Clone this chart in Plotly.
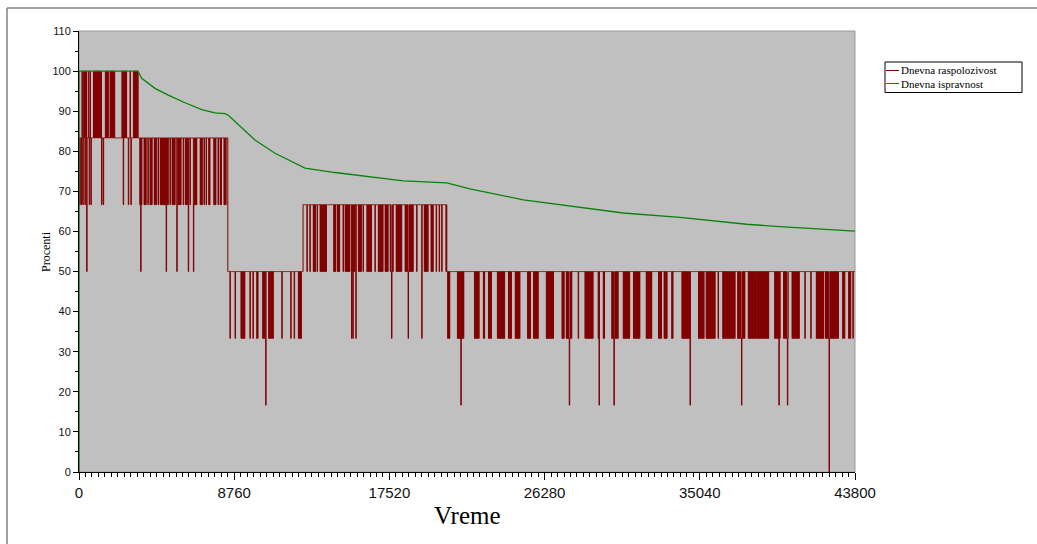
import numpy as np
import plotly.graph_objects as go

# ---- Daily availability (Dnevna raspolozivost), hours on the x axis ----
N_DAYS = 1825
END_HOUR = 43800

# Prevailing level of each period
base_start_h = [0, 8380, 12625, 20750]
base_level = [83.33, 50.0, 66.67, 50.0]

# Spans where the daily value kept flipping between the prevailing level and another one
burst_from_h = [
    150, 525, 805, 1465, 1750, 2410, 2880, 3065,
    3415, 3669, 4007, 4233, 4572, 5249, 5588, 5983, 6462, 6829, 7309, 7591, 7958, 8184,
    9126, 10029, 10368, 10684, 12377,
    13224, 13602, 14353, 14579, 15013, 15391, 15764, 16238, 16892, 17271, 17553, 17891,
    18399, 19472, 19850,
    20787, 21351, 22311, 22819, 23101, 23609, 24230, 24608, 25302, 25641, 26357, 27244,
    27486, 28559, 29592, 30066, 30720, 31285, 32001, 32696, 33017, 33452, 34016, 34953,
    35388, 36330, 37154, 37775, 38266, 39243, 39751, 40225, 41596, 42104, 43103, 43420,
]
burst_to_h = [
    435, 715, 1280, 1655, 2030, 2690, 2975, 3345,
    3528, 3810, 4148, 4374, 5023, 5418, 5757, 6124, 6660, 6942, 7394, 7704, 8043, 8325,
    9369, 10120, 10498, 10966, 12569,
    13359, 13980, 14505, 14731, 15295, 15577, 15956, 16520, 17175, 17457, 17739, 18213,
    18868, 19714, 19997,
    20939, 21729, 22593, 22915, 23293, 24043, 24421, 24890, 25494, 25923, 26770, 27373,
    27808, 29027, 29687, 30438, 31098, 31663, 32323, 32888, 33170, 33542, 34485, 35275,
    35896, 37025, 37589, 38210, 38904, 39564, 40033, 40654, 42008, 42855, 43233, 43555,
]
burst_level = (
    [100.0] * 8
    + [66.67] * 14
    + [33.33] * 5
    + [50.0] * 15
    + [33.33] * 36
)

# Single days that fell below the prevailing level
dip_h = [
    56, 141, 226, 339, 564, 677, 1281, 1372, 2500, 2783, 2918, 435,
    3894, 4459, 5136, 5870, 6265, 7055, 7168, 7845,
    3482, 4910, 5514, 6169, 6451,
    8522, 8805, 9651, 9821, 11440, 11948, 12135, 10537,
    12868, 13038, 13433, 14900, 16029, 16706, 19060, 20149, 20335, 20471, 20713,
    15391, 15465, 15634, 17649, 18586, 19342,
    28181, 29310, 36082, 40975, 41297, 43685,
    21543, 27673, 29349, 30195, 34485, 37403, 39508, 39977,
    42330,
]
dip_level = (
    [66.67] * 11 + [50.0]
    + [66.67] * 8
    + [50.0] * 5
    + [33.33] * 7 + [16.67]
    + [50.0] * 11
    + [33.33] * 6
    + [33.33] * 6
    + [16.67] * 8
    + [0.0]
)

# ---- Daily reliability (Dnevna ispravnost) ----
rel_h = [0, 0, 3330, 3539, 4289, 5040, 5983, 6926, 7676, 8240, 8426, 8991, 9933,
         11062, 12005, 12755, 14449, 15481, 18303, 20753, 22068, 25076, 27898,
         30720, 33921, 35801, 37685, 39565, 41444, 43800]
rel_pct = [0, 100, 100, 98.2, 95.7, 94.0, 92.1, 90.4, 89.6, 89.4, 89.0, 86.6, 82.8,
           79.5, 77.4, 75.8, 74.7, 74.1, 72.6, 72.1, 70.6, 67.9, 66.2,
           64.6, 63.5, 62.7, 61.8, 61.2, 60.7, 60.1]

# ---- Build the day-by-day availability series ----
day_hours = np.arange(N_DAYS) * 24
avail = np.zeros(N_DAYS)
for start, lev in zip(base_start_h, base_level):
    avail[day_hours >= start] = lev
for s, e, lev in zip(burst_from_h, burst_to_h, burst_level):
    idx = np.where((day_hours >= s) & (day_hours <= e))[0]
    avail[idx[::2]] = lev
for h, lev in zip(dip_h, dip_level):
    avail[min(int(round(h / 24)), N_DAYS - 1)] = lev

avail_x = np.append(day_hours, END_HOUR)
avail_y = np.append(avail, avail[-1])

RED = "#800000"
GREEN = "#0a820a"

fig = go.Figure()
fig.add_trace(go.Scatter(x=avail_x, y=avail_y, mode="lines", line_shape="hv",
                         line=dict(color=RED, width=1), name="Dnevna raspolozivost",
                         hoverinfo="skip"))
fig.add_trace(go.Scatter(x=rel_h, y=rel_pct, mode="lines",
                         line=dict(color=GREEN, width=1.3), name="Dnevna ispravnost",
                         hoverinfo="skip"))

# plot area geometry (pixels) used for placing decorations
L, R, T, B = 79, 182, 31, 72
W, H = 1037, 544
PW, PH = W - L - R, H - T - B


def px_x(px):
    return (px - L) / PW


def px_y(py):
    return (H - B - py) / PH


ROW1, ROW2 = 70.5, 83.5

shapes = [
    # thin grey border around the plotting area
    dict(type="rect", xref="paper", yref="paper", x0=0, x1=1, y0=0, y1=1,
         line=dict(color="#9a9a9a", width=1), layer="below"),
    # outer frame (left and top edges)
    dict(type="line", xref="paper", yref="paper", x0=px_x(7), x1=px_x(7),
         y0=px_y(8), y1=px_y(H + 5), line=dict(color="#808080", width=1.5)),
    dict(type="line", xref="paper", yref="paper", x0=px_x(7), x1=px_x(W + 5),
         y0=px_y(8), y1=px_y(8), line=dict(color="#808080", width=1.5)),
    # legend box and samples
    dict(type="rect", xref="paper", yref="paper", x0=px_x(885), x1=px_x(1022),
         y0=px_y(92.5), y1=px_y(62), line=dict(color="black", width=1),
         fillcolor="white"),
    dict(type="line", xref="paper", yref="paper", x0=px_x(886), x1=px_x(899),
         y0=px_y(ROW1), y1=px_y(ROW1), line=dict(color=RED, width=1)),
    dict(type="line", xref="paper", yref="paper", x0=px_x(886), x1=px_x(899),
         y0=px_y(ROW2), y1=px_y(ROW2), line=dict(color=GREEN, width=1)),
]

serif = "Liberation Serif, Times New Roman, serif"
annotations = [
    dict(text="Dnevna raspolozivost", xref="paper", yref="paper", x=px_x(899),
         y=px_y(ROW1), xanchor="left", yanchor="middle", showarrow=False,
         font=dict(family=serif, size=11, color="black")),
    dict(text="Dnevna ispravnost", xref="paper", yref="paper", x=px_x(899),
         y=px_y(ROW2), xanchor="left", yanchor="middle", showarrow=False,
         font=dict(family=serif, size=11, color="black")),
    dict(text="Vreme", xref="paper", yref="paper", x=0.5, y=px_y(515),
         xanchor="center", yanchor="middle", showarrow=False,
         font=dict(family=serif, size=25, color="black")),
    dict(text="Procenti", xref="paper", yref="paper", x=px_x(46), y=px_y(252),
         xanchor="center", yanchor="middle", textangle=-90, showarrow=False,
         font=dict(family=serif, size=12, color="black")),
]

sans = "Liberation Sans, Arial, sans-serif"
fig.update_layout(
    width=W, height=H, autosize=False,
    margin=dict(l=L, r=R, t=T, b=B, pad=0),
    paper_bgcolor="white", plot_bgcolor="#c0c0c0",
    showlegend=False,
    shapes=shapes, annotations=annotations,
    xaxis=dict(range=[0, END_HOUR], tick0=0, dtick=8760, tickformat="d",
               showgrid=False, zeroline=False,
               showline=True, linecolor="black", linewidth=1, ticks="outside",
               ticklen=7, tickcolor="black", tickfont=dict(family=sans, size=15, color="#111"),
               minor=dict(dtick=365, tick0=0, ticks="outside", ticklen=4, tickcolor="black"),
               layer="below traces", fixedrange=True),
    yaxis=dict(range=[0, 110], tick0=0, dtick=10, showgrid=False, zeroline=False,
               showline=True, linecolor="black", linewidth=1, ticks="outside",
               ticklen=5, tickcolor="black", tickfont=dict(family=sans, size=11, color="#111"),
               minor=dict(dtick=5, tick0=0, ticks="outside", ticklen=3, tickcolor="black"),
               layer="below traces", fixedrange=True),
)

fig.write_html("out.html")
